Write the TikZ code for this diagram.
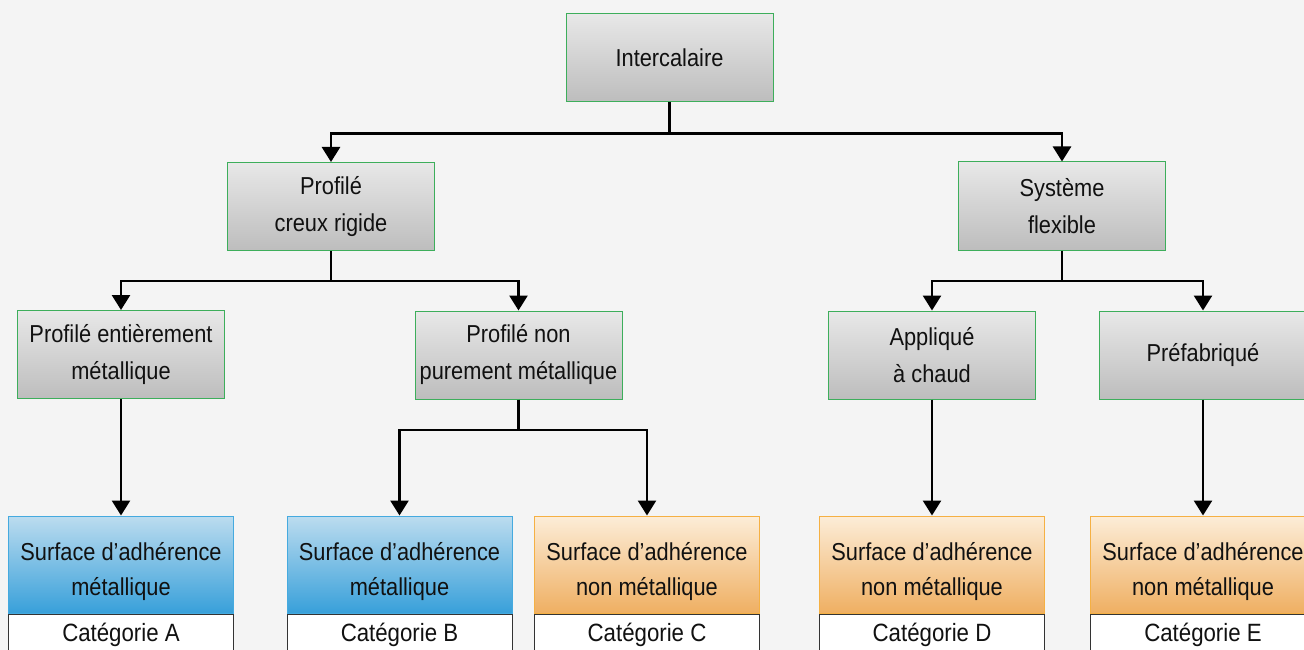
\documentclass[tikz,border=0pt]{standalone}
\usepackage{fontspec}
\setmainfont{Liberation Sans}[FakeStretch=0.89]
\usetikzlibrary{arrows.meta,positioning}
\definecolor{bg}{HTML}{F4F4F4}
\definecolor{grtop}{HTML}{E8E8E8}
\definecolor{grbot}{HTML}{BDBDBD}
\definecolor{grborder}{HTML}{3DAE5B}
\definecolor{bltop}{HTML}{BCDCEF}
\definecolor{blbot}{HTML}{38A0DA}
\definecolor{blborder}{HTML}{45AADF}
\definecolor{ortop}{HTML}{FCEDD8}
\definecolor{orbot}{HTML}{EFAF62}
\definecolor{orborder}{HTML}{F5B043}
\definecolor{txt}{HTML}{111111}
\tikzset{
  x=1pt,y=-1pt,
  every node/.style={text=txt,font=\fontsize{24.5}{37}\selectfont,align=center,inner sep=0pt},
  graybox/.style={draw=grborder,line width=1pt,top color=grtop,bottom color=grbot,minimum width=207,minimum height=88},
  surf/.style={line width=1pt,minimum width=225,minimum height=97,
    label={[font=\fontsize{24.5}{35}\selectfont,yshift=-7pt]center:#1}},
  bluebox/.style={surf={#1},draw=blborder,top color=bltop,bottom color=blbot},
  orbox/.style={surf={#1},draw=orborder,top color=ortop,bottom color=orbot},
  catbox/.style={draw=black!80,line width=1pt,fill=white,minimum width=225,minimum height=42,font=\fontsize{25}{30}\selectfont},
  arr/.style={line width=2.7pt,-{Triangle[width=18pt,length=15pt]}},
  ln/.style={line width=2.7pt}
}
\begin{document}
\begin{tikzpicture}
\fill[bg] (0,0) rectangle (1304,650);
\useasboundingbox (0,0) rectangle (1304,650);
% level 0
\node[graybox] (inter) at (669.5,57.5) {Intercalaire};
% level 1
\node[graybox] (prof) at (331,206.5) {Profilé\\creux rigide};
\node[graybox] (sys) at (1062,206) {Système\\flexible};
% level 2
\node[graybox] (pem) at (121,354.5) {Profilé entièrement\\métallique};
\node[graybox] (pnpm) at (518.5,355) {Profilé non\\purement métallique};
\node[graybox] (app) at (932,355) {Appliqué\\à chaud};
\node[graybox] (pre) at (1203,355) {Préfabriqué};
% level 3
\node[bluebox={Surface d’adhérence\\métallique}] (sa) at (121,564.5) {};
\node[bluebox={Surface d’adhérence\\métallique}] (sb) at (399.5,564.5) {};
\node[orbox={Surface d’adhérence\\non métallique}] (sc) at (647,564.5) {};
\node[orbox={Surface d’adhérence\\non métallique}] (sd) at (932,564.5) {};
\node[orbox={Surface d’adhérence\\non métallique}] (se) at (1203,564.5) {};
% categories
\node[catbox,anchor=north] (ca) at (sa.south) {Catégorie A};
\node[catbox,anchor=north] (cb) at (sb.south) {Catégorie B};
\node[catbox,anchor=north] (cc) at (sc.south) {Catégorie C};
\node[catbox,anchor=north] (cd) at (sd.south) {Catégorie D};
\node[catbox,anchor=north] (ce) at (se.south) {Catégorie E};
% connectors
\coordinate (j0) at (669.5,133.5);
\draw[ln] (inter.south) -- (j0);
\draw[arr] (j0) -| (prof.north);
\draw[arr] (j0) -| (sys.north);
\coordinate (j1) at (331,281);
\draw[ln] (prof.south) -- (j1);
\draw[arr] (j1) -| (pem.north);
\draw[arr] (j1) -| (pnpm.north);
\coordinate (j2) at (1062,281);
\draw[ln] (sys.south) -- (j2);
\draw[arr] (j2) -| (app.north);
\draw[arr] (j2) -| (pre.north);
\draw[arr] (pem.south) -- (sa.north);
\coordinate (j3) at (518.5,430);
\draw[ln] (pnpm.south) -- (j3);
\draw[arr] (j3) -| (sb.north);
\draw[arr] (j3) -| (sc.north);
\draw[arr] (app.south) -- (sd.north);
\draw[arr] (pre.south) -- (se.north);
\end{tikzpicture}
\end{document}
